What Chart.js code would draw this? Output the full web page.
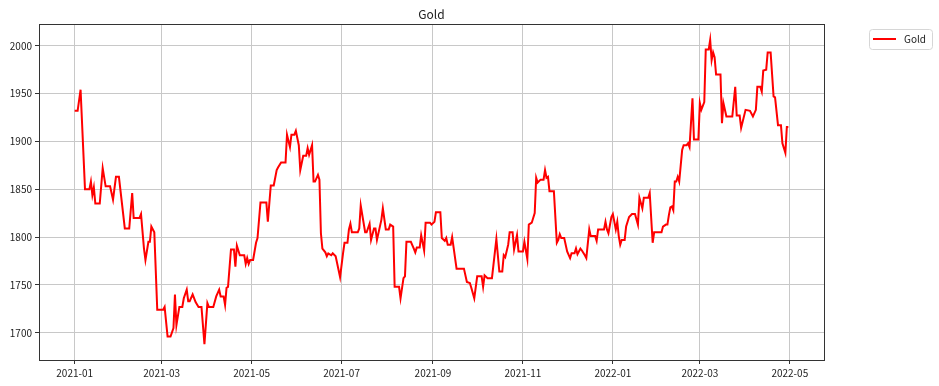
<!DOCTYPE html>
<html>
<head>
<meta charset="utf-8">
<title>Gold</title>
<script src="https://cdn.jsdelivr.net/npm/chart.js@4.4.1/dist/chart.umd.min.js"></script>
<style>
    html, body { margin: 0; padding: 0; background: #fff; }
    canvas { display: block; }
</style>
</head>
<body>
<canvas id="goldChart" width="939" height="386"></canvas>
<script>
    // days counted from 2021-01-01
    const days = [
        0, 2, 4, 7, 10, 11, 12, 13, 14, 17,
        19, 21, 24, 26, 28, 30, 34, 37, 39, 40,
        44, 45, 47, 48, 50, 51, 52, 54, 56, 60,
        61, 63, 65, 67, 68, 69, 71, 73, 74, 76,
        77, 78, 80, 82, 84, 86, 88, 90, 91, 94,
        96, 98, 99, 101, 102, 103, 104, 106, 108, 109,
        110, 112, 115, 116, 117, 118, 119, 121, 123, 124,
        126, 130, 131, 133, 135, 137, 138, 140, 143, 144,
        146, 147, 149, 150, 152, 153, 155, 157, 158, 159,
        161, 162, 163, 165, 166, 167, 168, 170, 171, 172,
        174, 175, 177, 180, 182, 183, 185, 186, 187, 188,
        192, 193, 194, 197, 198, 200, 201, 203, 204, 205,
        208, 209, 211, 213, 214, 216, 217, 220, 221, 223,
        224, 225, 228, 230, 231, 232, 234, 235, 237, 238,
        241, 242, 244, 245, 248, 249, 251, 252, 253, 255,
        256, 259, 264, 266, 268, 269, 271, 273, 276, 277,
        278, 280, 283, 286, 288, 290, 291, 292, 294, 295,
        297, 298, 300, 301, 304, 305, 307, 308, 310, 312,
        313, 314, 316, 318, 319, 320, 321, 322, 325, 327,
        328, 329, 330, 332, 334, 336, 337, 339, 340, 341,
        343, 344, 346, 347, 349, 350, 353, 354, 355, 359,
        360, 361, 362, 364, 365, 367, 368, 369, 370, 371,
        373, 374, 376, 378, 380, 382, 383, 385, 386, 389,
        390, 392, 393, 398, 399, 401, 402, 403, 404, 405,
        406, 407, 408, 409, 410, 412, 413, 415, 416, 417,
        419, 420, 423, 424, 425, 427, 428, 430, 431, 432,
        433, 434, 435, 438, 439, 440, 442, 446, 448, 449,
        451, 452, 455, 458, 460, 462, 463, 465, 466, 467,
        469, 470, 472, 474, 475, 477, 479, 480, 482, 483,
        484
    ];

    const gold = [
        1932, 1932, 1954, 1850, 1850, 1858, 1844, 1852, 1835, 1835,
        1872, 1853, 1853, 1839, 1863, 1863, 1809, 1809, 1846, 1820,
        1820, 1824, 1788, 1776, 1795, 1795, 1811, 1805, 1724, 1724,
        1727, 1696, 1696, 1705, 1740, 1708, 1727, 1727, 1736, 1745,
        1733, 1733, 1740, 1732, 1727, 1727, 1688, 1731, 1727, 1727,
        1738, 1745, 1738, 1738, 1729, 1747, 1748, 1787, 1787, 1769,
        1791, 1781, 1781, 1772, 1778, 1772, 1776, 1776, 1794, 1799,
        1836, 1836, 1816, 1854, 1854, 1870, 1873, 1878, 1878, 1907,
        1894, 1907, 1907, 1911, 1896, 1870, 1885, 1885, 1893, 1886,
        1896, 1858, 1858, 1865, 1860, 1804, 1788, 1784, 1780, 1783,
        1781, 1783, 1780, 1758, 1783, 1794, 1794, 1808, 1814, 1805,
        1805, 1809, 1833, 1805, 1805, 1814, 1797, 1809, 1809, 1797,
        1818, 1830, 1808, 1808, 1813, 1811, 1748, 1748, 1736, 1757,
        1759, 1795, 1795, 1788, 1784, 1789, 1789, 1802, 1786, 1815,
        1815, 1813, 1816, 1826, 1826, 1799, 1796, 1799, 1792, 1792,
        1800, 1767, 1767, 1753, 1752, 1747, 1736, 1759, 1759, 1748,
        1760, 1757, 1757, 1798, 1764, 1764, 1781, 1779, 1792, 1805,
        1805, 1787, 1802, 1785, 1785, 1795, 1777, 1813, 1815, 1825,
        1862, 1857, 1860, 1860, 1870, 1862, 1863, 1848, 1848, 1794,
        1797, 1803, 1799, 1799, 1785, 1778, 1783, 1783, 1788, 1782,
        1788, 1786, 1781, 1778, 1808, 1801, 1801, 1796, 1808, 1808,
        1816, 1808, 1804, 1821, 1824, 1808, 1816, 1801, 1792, 1797,
        1797, 1811, 1821, 1824, 1824, 1813, 1841, 1830, 1841, 1841,
        1846, 1794, 1805, 1805, 1811, 1813, 1813, 1823, 1831, 1832,
        1828, 1858, 1858, 1863, 1858, 1891, 1896, 1896, 1898, 1894,
        1945, 1902, 1902, 1940, 1933, 1941, 1996, 1996, 2006, 1985,
        1993, 1988, 1970, 1970, 1919, 1940, 1926, 1926, 1957, 1927,
        1927, 1914, 1933, 1932, 1926, 1933, 1957, 1957, 1952, 1974,
        1975, 1993, 1993, 1947, 1946, 1917, 1917, 1898, 1888, 1915,
        1915
    ];

    const tickDays = [0, 59, 120, 181, 243, 304, 365, 424, 485];
    const tickLabels = ['2021-01', '2021-03', '2021-05', '2021-07', '2021-09', '2021-11', '2022-01', '2022-03', '2022-05'];
    const yTicks = [1700, 1750, 1800, 1850, 1900, 1950, 2000];

    const FONT = "'Noto Sans CJK KR', 'Noto Sans', sans-serif";

    // frame, title and legend box like matplotlib
    const decorations = {
        id: 'decorations',
        afterDraw(chart) {
            const ctx = chart.ctx;
            const a = chart.chartArea;
            ctx.save();

            ctx.strokeStyle = '#333';
            ctx.lineWidth = 1;
            ctx.strokeRect(Math.round(a.left) + 0.5, Math.round(a.top) + 0.5,
                Math.round(a.right - a.left), Math.round(a.bottom - a.top));

            ctx.fillStyle = '#222';
            ctx.font = '12px ' + FONT;
            ctx.textAlign = 'center';
            ctx.textBaseline = 'middle';
            ctx.fillText('Gold', (a.left + a.right) / 2, 14);

            // legend
            const lx = 869.5, ly = 29.5, lw = 63, lh = 20;
            ctx.beginPath();
            ctx.roundRect(lx, ly, lw, lh, 3);
            ctx.fillStyle = 'rgba(255,255,255,0.8)';
            ctx.fill();
            ctx.strokeStyle = '#d6d6d6';
            ctx.stroke();

            ctx.beginPath();
            ctx.moveTo(873, 39);
            ctx.lineTo(896, 39);
            ctx.strokeStyle = 'red';
            ctx.lineWidth = 2;
            ctx.stroke();

            ctx.fillStyle = '#222';
            ctx.font = '10px ' + FONT;
            ctx.textAlign = 'left';
            ctx.fillText(chart.data.datasets[0].label, 904, 39);
            ctx.restore();
        }
    };

    const goldChart = new Chart(document.getElementById('goldChart'), {
        type: 'line',
        data: {
            datasets: [{
                label: 'Gold',
                data: days.map((d, i) => ({ x: d, y: gold[i] })),
                borderColor: 'red',
                backgroundColor: 'red',
                borderWidth: 2,
                pointRadius: 0,
                tension: 0,
                fill: false
            }]
        },
        options: {
            responsive: false,
            animation: false,
            devicePixelRatio: 1,
            layout: {
                padding: { top: 24, right: 115, bottom: 0, left: 0 }
            },
            plugins: {
                legend: { display: false },
                title: { display: false },
                tooltip: { enabled: false }
            },
            scales: {
                x: {
                    type: 'linear',
                    min: -24.2,
                    max: 508.2,
                    afterBuildTicks: scale => {
                        scale.ticks = tickDays.map(v => ({ value: v }));
                    },
                    afterFit: scale => { scale.height = 26; },
                    ticks: {
                        autoSkip: false,
                        maxRotation: 0,
                        padding: 3,
                        color: '#222',
                        font: { family: FONT, size: 10 },
                        callback: value => tickLabels[tickDays.indexOf(value)]
                    },
                    grid: {
                        color: '#c8c8c8',
                        lineWidth: 1,
                        tickColor: '#333',
                        tickLength: 4
                    },
                    border: { display: false }
                },
                y: {
                    min: 1671.5,
                    max: 2022.7,
                    afterBuildTicks: scale => {
                        scale.ticks = yTicks.map(v => ({ value: v }));
                    },
                    afterFit: scale => { scale.width = 39; },
                    ticks: {
                        padding: 3,
                        color: '#222',
                        font: { family: FONT, size: 10 },
                        callback: value => String(value)
                    },
                    grid: {
                        color: '#c8c8c8',
                        lineWidth: 1,
                        tickColor: '#333',
                        tickLength: 4
                    },
                    border: { display: false }
                }
            }
        },
        plugins: [decorations]
    });
</script>
</body>
</html>
